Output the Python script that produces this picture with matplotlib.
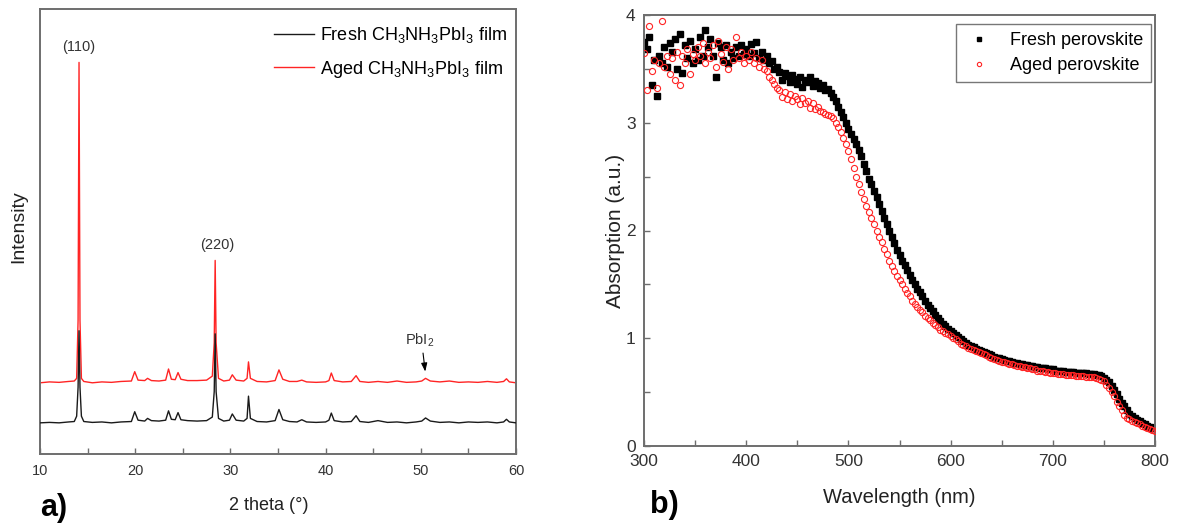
import numpy as np
import matplotlib
matplotlib.use("Agg")
import matplotlib.pyplot as plt
from matplotlib.ticker import MultipleLocator

plt.rcParams['font.family'] = ['Liberation Sans', 'DejaVu Sans']
plt.rcParams['mathtext.fontset'] = 'custom'
plt.rcParams['mathtext.rm'] = 'Liberation Sans'
plt.rcParams['mathtext.it'] = 'Liberation Sans'

# ---- panel a) XRD, vertices (arbitrary intensity units 0-100)
xrd_2theta = [10.0, 11.0, 12.0, 13.0, 13.6, 13.85, 14.0, 14.1, 14.2, 14.35, 14.6,
              15.5, 16.5, 17.5, 18.5, 19.6, 19.95, 20.3, 21.0, 21.3, 21.7, 22.5,
              23.2, 23.5, 23.8, 24.2, 24.5, 24.8, 25.5, 26.5, 27.5, 28.1, 28.3,
              28.4, 28.5, 28.75, 29.3, 29.9, 30.2, 30.6, 31.4, 31.75, 31.9, 32.1,
              32.8, 33.8, 34.7, 35.1, 35.5, 36.2, 37.0, 37.5, 38.0, 39.0, 40.0,
              40.35, 40.6, 40.9, 41.8, 42.7, 43.2, 43.6, 44.5, 45.5, 46.5, 47.5,
              48.5, 49.5, 50.1, 50.5, 51.0, 52.0, 53.0, 54.0, 55.0, 56.0, 57.0,
              58.0, 58.7, 59.0, 59.3, 60.0]
xrd_fresh = [7.0, 7.1, 7.0, 7.2, 7.3, 8.5, 15.0, 27.7, 15.0, 8.5, 7.3,
             7.1, 7.2, 7.0, 7.2, 7.3, 9.5, 7.6, 7.4, 8.0, 7.5, 7.4,
             7.6, 9.7, 7.8, 7.7, 9.3, 7.7, 7.5, 7.4, 7.5, 8.3, 14.0,
             27.0, 14.0, 8.0, 7.4, 7.6, 9.0, 7.6, 7.4, 8.0, 13.0, 8.0,
             7.3, 7.2, 7.5, 10.0, 7.7, 7.3, 7.2, 7.7, 7.2, 7.1, 7.2,
             7.6, 9.2, 7.5, 7.2, 7.3, 8.6, 7.3, 7.1, 7.5, 7.1, 7.2,
             7.0, 7.2, 7.4, 8.1, 7.4, 7.1, 7.2, 7.0, 7.2, 7.1, 7.2,
             7.0, 7.2, 7.8, 7.2, 7.0]
xrd_aged = [16.0, 16.2, 16.1, 16.3, 16.4, 17.0, 30.0, 88.0, 30.0, 17.0, 16.3,
            16.0, 16.2, 16.1, 16.3, 16.4, 18.5, 16.6, 16.5, 17.0, 16.5, 16.4,
            16.6, 19.1, 16.8, 16.7, 18.3, 16.8, 16.5, 16.5, 16.6, 17.5, 25.0,
            43.5, 25.0, 17.0, 16.4, 16.6, 17.8, 16.6, 16.4, 17.0, 20.7, 17.0,
            16.3, 16.2, 16.5, 18.9, 16.8, 16.3, 16.3, 16.6, 16.2, 16.1, 16.2,
            16.5, 18.2, 16.5, 16.2, 16.3, 17.6, 16.3, 16.1, 16.3, 16.1, 16.4,
            16.1, 16.2, 16.4, 17.0, 16.4, 16.2, 16.4, 16.1, 16.2, 16.1, 16.3,
            16.1, 16.3, 16.9, 16.2, 16.0]

# ---- panel b) absorption, one reading every 2.5 nm from 300 to 800 nm
wavelength = np.arange(300, 800.1, 2.5)
abs_fresh = [
    3.75, 3.68, 3.80, 3.35, 3.58, 3.25, 3.62, 3.55, 3.70, 3.52,
    3.74, 3.66, 3.78, 3.50, 3.82, 3.46, 3.72, 3.60, 3.76, 3.55,
    3.68, 3.58, 3.80, 3.62, 3.86, 3.70, 3.78, 3.62, 3.42, 3.74,
    3.70, 3.58, 3.72, 3.55, 3.66, 3.60, 3.70, 3.62, 3.72, 3.64,
    3.68, 3.62, 3.73, 3.65, 3.75, 3.60, 3.66, 3.58, 3.62, 3.55,
    3.57, 3.50, 3.52, 3.47, 3.40, 3.46, 3.43, 3.38, 3.44, 3.41,
    3.36, 3.42, 3.33, 3.40, 3.38, 3.42, 3.34, 3.39, 3.37, 3.32,
    3.35, 3.30, 3.31, 3.28, 3.24, 3.20, 3.15, 3.10, 3.05, 3.00,
    2.94, 2.90, 2.85, 2.80, 2.75, 2.69, 2.62, 2.55, 2.48, 2.43,
    2.37, 2.31, 2.25, 2.18, 2.12, 2.06, 2.00, 1.94, 1.88, 1.82,
    1.77, 1.72, 1.68, 1.63, 1.59, 1.54, 1.50, 1.46, 1.43, 1.39,
    1.35, 1.31, 1.28, 1.25, 1.22, 1.19, 1.16, 1.13, 1.11, 1.09,
    1.07, 1.05, 1.03, 1.01, 0.99, 0.97, 0.96, 0.94, 0.93, 0.92,
    0.90, 0.89, 0.88, 0.87, 0.86, 0.85, 0.84, 0.83, 0.82, 0.82,
    0.81, 0.80, 0.79, 0.79, 0.78, 0.77, 0.77, 0.76, 0.76, 0.75,
    0.75, 0.74, 0.74, 0.73, 0.73, 0.72, 0.72, 0.72, 0.71, 0.71,
    0.71, 0.70, 0.70, 0.70, 0.70, 0.69, 0.69, 0.69, 0.69, 0.68,
    0.68, 0.68, 0.68, 0.68, 0.67, 0.67, 0.67, 0.66, 0.66, 0.65,
    0.63, 0.61, 0.59, 0.56, 0.52, 0.48, 0.44, 0.40, 0.37, 0.33,
    0.30, 0.28, 0.26, 0.24, 0.23, 0.21, 0.20, 0.19, 0.18, 0.17,
    0.17]
abs_aged = [
    3.65, 3.30, 3.90, 3.48, 3.58, 3.32, 3.55, 3.94, 3.52, 3.62,
    3.45, 3.60, 3.40, 3.66, 3.35, 3.62, 3.55, 3.68, 3.45, 3.64,
    3.58, 3.70, 3.62, 3.74, 3.55, 3.66, 3.60, 3.72, 3.52, 3.76,
    3.64, 3.56, 3.70, 3.50, 3.68, 3.58, 3.80, 3.60, 3.66, 3.55,
    3.62, 3.58, 3.66, 3.55, 3.60, 3.52, 3.58, 3.50, 3.48, 3.42,
    3.40, 3.36, 3.32, 3.30, 3.24, 3.29, 3.22, 3.27, 3.20, 3.25,
    3.22, 3.17, 3.23, 3.18, 3.20, 3.14, 3.18, 3.13, 3.15, 3.11,
    3.10, 3.08, 3.07, 3.06, 3.04, 3.00, 2.96, 2.91, 2.86, 2.80,
    2.74, 2.66, 2.58, 2.50, 2.43, 2.36, 2.29, 2.23, 2.17, 2.12,
    2.06, 2.00, 1.94, 1.89, 1.83, 1.78, 1.72, 1.67, 1.62, 1.58,
    1.54, 1.50, 1.46, 1.42, 1.39, 1.35, 1.32, 1.29, 1.26, 1.24,
    1.21, 1.19, 1.17, 1.14, 1.12, 1.10, 1.08, 1.07, 1.05, 1.04,
    1.02, 1.00, 0.99, 0.97, 0.95, 0.94, 0.93, 0.91, 0.90, 0.89,
    0.88, 0.87, 0.86, 0.85, 0.84, 0.83, 0.82, 0.81, 0.80, 0.79,
    0.78, 0.78, 0.77, 0.76, 0.76, 0.75, 0.74, 0.74, 0.73, 0.73,
    0.72, 0.72, 0.71, 0.71, 0.70, 0.70, 0.70, 0.69, 0.69, 0.68,
    0.68, 0.68, 0.67, 0.67, 0.67, 0.66, 0.66, 0.66, 0.66, 0.65,
    0.65, 0.65, 0.65, 0.64, 0.64, 0.64, 0.64, 0.63, 0.62, 0.61,
    0.60, 0.57, 0.54, 0.50, 0.46, 0.41, 0.37, 0.33, 0.29, 0.26,
    0.25, 0.23, 0.22, 0.21, 0.20, 0.19, 0.18, 0.17, 0.16, 0.15,
    0.14]
assert len(abs_fresh) == len(wavelength) and len(abs_aged) == len(wavelength)

RED = '#ff2424'
FRAME = '#6e6e6e'

fig = plt.figure(figsize=(11.8, 5.24), dpi=100)
ax1 = fig.add_axes([40/1180, 70/524, 476/1180, 445/524])
ax2 = fig.add_axes([644/1180, 78/524, 511/1180, 431/524])

for ax in (ax1, ax2):
    for s in ax.spines.values():
        s.set_color(FRAME)
        s.set_linewidth(1.4)

# panel a
ax1.plot(xrd_2theta, xrd_aged, color=RED, lw=1.0,
         label=r'Aged CH$_3$NH$_3$PbI$_3$ film', zorder=2)
ax1.plot(xrd_2theta, xrd_fresh, color='#1a1a1a', lw=1.0,
         label=r'Fresh CH$_3$NH$_3$PbI$_3$ film', zorder=3)
ax1.set_xlim(10, 60)
ax1.set_ylim(0, 100)
ax1.set_yticks([])
ax1.xaxis.set_major_locator(MultipleLocator(10))
ax1.xaxis.set_minor_locator(MultipleLocator(5))
ax1.tick_params(axis='x', which='both', direction='in', length=4, width=1,
                color=FRAME, labelsize=10.5, labelcolor='#333333', pad=7)
ax1.set_xlabel('2 theta (°)', fontsize=13, color='#222222')
ax1.xaxis.set_label_coords(0.48, -0.097)
ax1.set_ylabel('Intensity', fontsize=14, color='#222222')
ax1.yaxis.set_label_coords(-0.026, 0.51)
h, l = ax1.get_legend_handles_labels()
ax1.legend(h[::-1], l[::-1], loc='upper right', bbox_to_anchor=(1.0, 0.984),
           frameon=False, fontsize=13, handlelength=2.2, handletextpad=0.35,
           labelspacing=0.75, borderaxespad=0.1)
ax1.text(14.1, 91.5, '(110)', ha='center', va='center', fontsize=10.5, color='#333333')
ax1.text(28.6, 47.0, '(220)', ha='center', va='center', fontsize=10.5, color='#333333')
ax1.text(49.9, 25.6, r'PbI$_2$', ha='center', va='center', fontsize=10.5, color='#333333')
ax1.annotate('', xy=(50.5, 17.9), xytext=(50.2, 23.3),
             arrowprops=dict(arrowstyle='-|>,head_width=0.18,head_length=0.5',
                             color='black', lw=0.8))

# panel b
ax2.plot(wavelength, abs_fresh, 's', ms=4.0, color='black', mec='black',
         label='Fresh perovskite', zorder=2)
ax2.plot(wavelength, abs_aged, 'o', ms=4.4, mfc='none', mec=RED, mew=0.8,
         label='Aged perovskite', zorder=3)
ax2.set_xlim(300, 800)
ax2.set_ylim(0, 4)
ax2.xaxis.set_major_locator(MultipleLocator(100))
ax2.xaxis.set_minor_locator(MultipleLocator(50))
ax2.yaxis.set_major_locator(MultipleLocator(1))
ax2.yaxis.set_minor_locator(MultipleLocator(0.5))
ax2.tick_params(which='both', direction='in', length=4, width=1, color=FRAME,
                labelsize=12.5, labelcolor='#333333', pad=6)
ax2.set_xlabel('Wavelength (nm)', fontsize=14.5, color='#222222')
ax2.xaxis.set_label_coords(0.5, -0.097)
ax2.set_ylabel('Absorption (a.u.)', fontsize=15, color='#222222')
ax2.yaxis.set_label_coords(-0.037, 0.5)
leg = ax2.legend(loc='upper right', bbox_to_anchor=(0.992, 0.979), fontsize=13,
                 fancybox=False, edgecolor='#777777', framealpha=1,
                 markerscale=0.7, handlelength=1.6, handletextpad=0.9,
                 labelspacing=0.45, borderpad=0.45, borderaxespad=0)
leg.get_frame().set_linewidth(1.0)

fig.text(40/1180, 1 - 508/524, 'a)', fontsize=22, fontweight='bold', va='center', ha='left')
fig.text(650/1180, 1 - 505/524, 'b)', fontsize=22, fontweight='bold', va='center', ha='left')

fig.savefig('out.png', dpi=100)
